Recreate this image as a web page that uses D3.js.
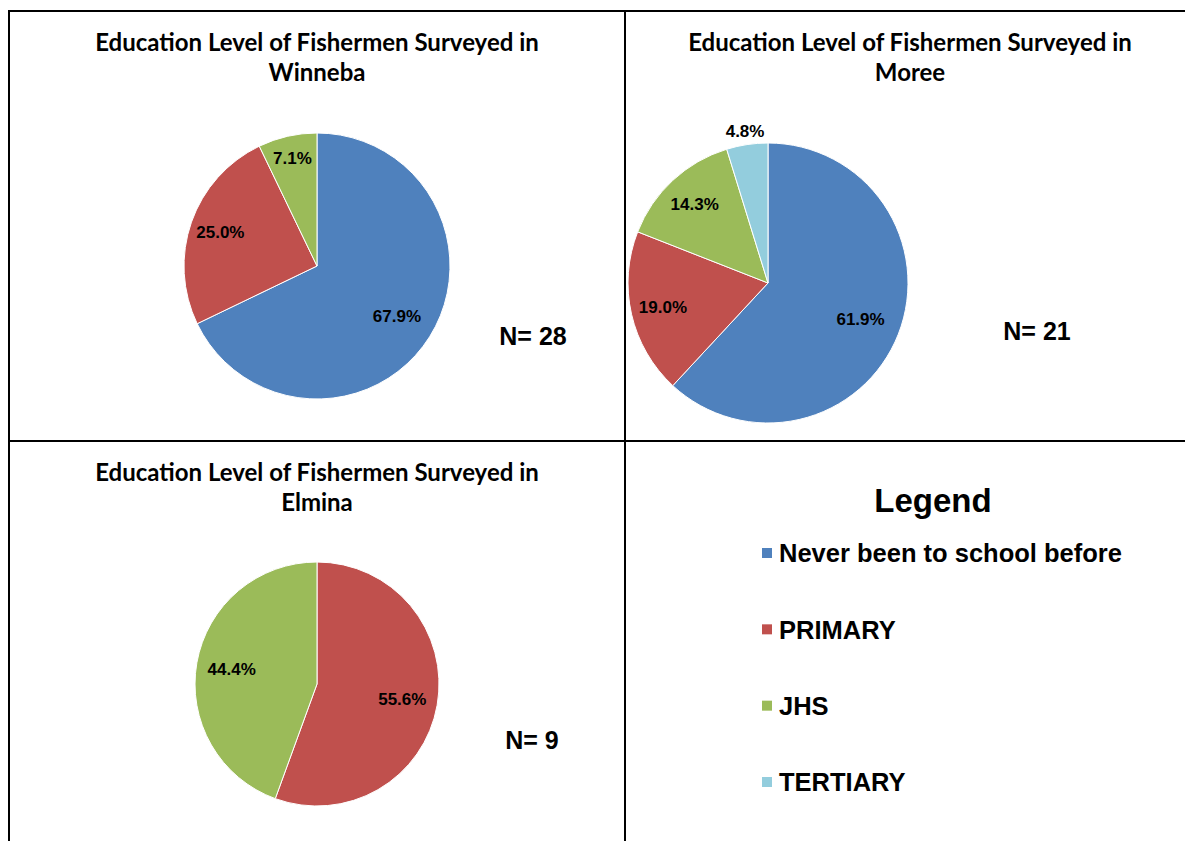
<!DOCTYPE html>
<html>
<head>
<meta charset="utf-8">
<script src="https://cdn.jsdelivr.net/npm/d3@7"></script>
<style>
  body { margin: 0; background: #fff; }
</style>
</head>
<body>
<div id="chart"></div>
<script>
const categories = ["Never been to school before", "PRIMARY", "JHS", "TERTIARY"];
const colors = ["#4F81BD", "#C0504D", "#9BBB59", "#93CDDD"];

// number of fishermen in each education level
const winneba = [19, 7, 2, 0];
const moree = [13, 4, 3, 1];
const elmina = [0, 5, 4, 0];

const width = 1185;
const height = 841;

const svg = d3.select("#chart")
  .append("svg")
    .attr("width", width)
    .attr("height", height);

// panel grid
const grid = svg.append("g")
  .attr("stroke", "#000")
  .attr("stroke-width", 2);
grid.append("line").attr("x1", 9).attr("x2", width).attr("y1", 11).attr("y2", 11);
grid.append("line").attr("x1", 9).attr("x2", width).attr("y1", 441).attr("y2", 441);
grid.append("line").attr("x1", 9).attr("x2", 9).attr("y1", 10).attr("y2", height);
grid.append("line").attr("x1", 625).attr("x2", 625).attr("y1", 10).attr("y2", height);

const color = d3.scaleOrdinal().domain(categories).range(colors);
const pct = d3.format(".1f");

const panels = [
  { name: "Winneba", values: winneba, cx: 317, cy: 266, r: 133, tx: 317, ty: 51, nx: 533, ny: 345 },
  { name: "Moree", values: moree, cx: 768, cy: 283, r: 140, tx: 910, ty: 51, nx: 1037, ny: 340 },
  { name: "Elmina", values: elmina, cx: 317, cy: 684, r: 122, tx: 317, ty: 481, nx: 532, ny: 749 }
];

const pie = d3.pie().sort(null).value(d => d.value);

panels.forEach(p => {
  const g = svg.append("g");
  const total = d3.sum(p.values);
  const data = categories.map((c, i) => ({ cat: c, value: p.values[i] }));
  const arcs = pie(data).filter(a => a.data.value > 0);

  const arc = d3.arc().innerRadius(0).outerRadius(p.r);

  g.append("g")
    .attr("transform", `translate(${p.cx},${p.cy})`)
    .selectAll("path")
    .data(arcs)
    .join("path")
      .attr("d", arc)
      .attr("fill", d => color(d.data.cat))
      .attr("stroke", "#fff")
      .attr("stroke-width", 1);

  // labels: pushed outward for narrow slices, outside for tiny ones
  g.append("g")
    .attr("transform", `translate(${p.cx},${p.cy})`)
    .attr("font-family", "'Liberation Sans', Arial, sans-serif")
    .attr("font-weight", "bold")
    .attr("font-size", 17)
    .attr("text-anchor", "middle")
    .selectAll("text")
    .data(arcs)
    .join("text")
      .attr("transform", d => {
        const f = d.data.value / total;
        const k = f < 0.06 ? 1.1 : f < 0.1 ? 0.83 : f < 0.3 ? 0.77 : 0.71;
        const a = (d.startAngle + d.endAngle) / 2;
        return `translate(${Math.sin(a) * p.r * k},${-Math.cos(a) * p.r * k})`;
      })
      .attr("dy", "0.35em")
      .attr("fill", "#000")
      .text(d => `${pct(d.data.value / total * 100)}%`);

  const title = g.append("text")
    .attr("font-family", "Lato, 'Open Sans', sans-serif")
    .attr("font-weight", "bold")
    .attr("font-size", 24)
    .attr("text-anchor", "middle");
  title.append("tspan").attr("x", p.tx).attr("y", p.ty).text("Education Level of Fishermen Surveyed in");
  title.append("tspan").attr("x", p.tx).attr("y", p.ty + 30).text(p.name);

  g.append("text")
    .attr("x", p.nx)
    .attr("y", p.ny)
    .attr("font-family", "'Liberation Sans', Arial, sans-serif")
    .attr("font-weight", "bold")
    .attr("font-size", 25)
    .attr("text-anchor", "middle")
    .text(`N= ${total}`);
});

// legend
const legend = svg.append("g")
  .attr("font-family", "'Liberation Sans', Arial, sans-serif")
  .attr("font-weight", "bold");

legend.append("text")
  .attr("x", 933)
  .attr("y", 512)
  .attr("font-size", 33)
  .attr("text-anchor", "middle")
  .text("Legend");

const ly = d3.scalePoint().domain(categories).range([553, 782]);

const item = legend.selectAll("g.item")
  .data(categories)
  .join("g")
    .attr("class", "item")
    .attr("transform", d => `translate(762,${ly(d)})`);

item.append("rect")
  .attr("x", 0)
  .attr("y", -5)
  .attr("width", 10)
  .attr("height", 10)
  .attr("fill", d => color(d));

item.append("text")
  .attr("x", 17)
  .attr("dy", "0.36em")
  .attr("font-size", 25.5)
  .text(d => d);
</script>
</body>
</html>
